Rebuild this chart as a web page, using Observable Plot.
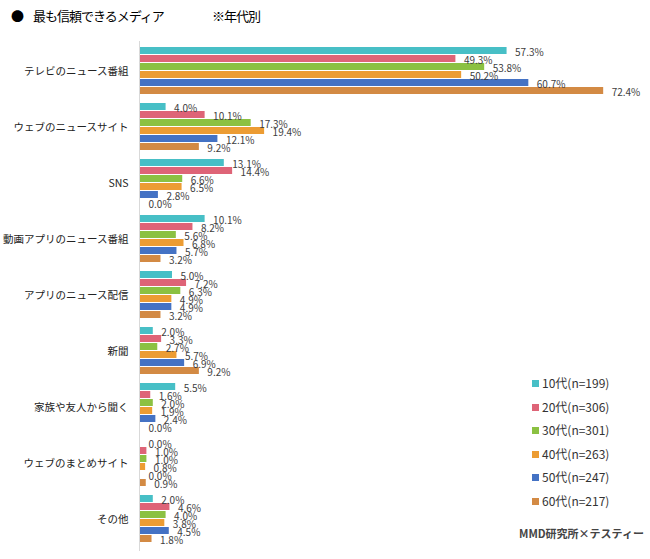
<!DOCTYPE html>
<html>
<head>
<meta charset="utf-8">
<script src="https://cdn.jsdelivr.net/npm/d3@7"></script>
<script src="https://cdn.jsdelivr.net/npm/@observablehq/plot@0.6"></script>
<style>
  html, body { margin: 0; padding: 0; background: #fff; }
  #wrap { position: relative; width: 650px; height: 559px; font-family: "Noto Sans CJK JP", "Noto Sans", sans-serif; overflow: hidden; }
  .t { position: absolute; top: 7px; font-size: 13px; color: #000; white-space: pre; line-height: 18px; letter-spacing: -1px; }
  #legend { position: absolute; left: 532px; top: 374px; }
  .li { position: absolute; left: 0; font-size: 12px; color: #333; white-space: nowrap; line-height: 18px; }
  .sw { display: inline-block; width: 7px; height: 7px; margin-right: 3px; vertical-align: 1px; }
  #caption { position: absolute; left: 519px; top: 525px; font-size: 11px; font-weight: bold; color: #444; white-space: nowrap; }
  #chart { position: absolute; left: 0; top: 0; }
</style>
</head>
<body>
<div id="wrap">
  <div id="chart"></div>
  <div class="t" style="left:11px">●</div>
  <div class="t" style="left:33px">最も信頼できるメディア</div>
  <div class="t" style="left:212px">※年代別</div>
  <div id="legend"></div>
  <div id="caption">MMD研究所×テスティー</div>
</div>
<script>
const categories = ["テレビのニュース番組", "ウェブのニュースサイト", "SNS", "動画アプリのニュース番組", "アプリのニュース配信", "新聞", "家族や友人から聞く", "ウェブのまとめサイト", "その他"];
const series = ["10代(n=199)", "20代(n=306)", "30代(n=301)", "40代(n=263)", "50代(n=247)", "60代(n=217)"];
const colors = ["#47bfc6", "#de6477", "#8bc142", "#ec9c33", "#4472c4", "#d38a44"];
const s10 = [57.3, 4.0, 13.1, 10.1, 5.0, 2.0, 5.5, 0.0, 2.0];
const s20 = [49.3, 10.1, 14.4, 8.2, 7.2, 3.3, 1.6, 1.0, 4.6];
const s30 = [53.8, 17.3, 6.6, 5.6, 6.3, 2.7, 2.0, 1.0, 4.0];
const s40 = [50.2, 19.4, 6.5, 6.8, 4.9, 5.7, 1.9, 0.8, 3.8];
const s50 = [60.7, 12.1, 2.8, 5.7, 4.9, 6.9, 2.4, 0.0, 4.5];
const s60 = [72.4, 9.2, 0.0, 3.2, 3.2, 9.2, 0.0, 0.9, 1.8];

const seriesValues = [s10, s20, s30, s40, s50, s60];
const data = [];
categories.forEach((c, i) => {
  series.forEach((s, j) => {
    data.push({cat: c, age: s, value: seriesValues[j][i]});
  });
});

const plot = Plot.plot({
  width: 650,
  height: 559,
  marginLeft: 140,
  marginRight: 11,
  marginTop: 42,
  marginBottom: 10,
  style: {fontFamily: "'Noto Sans CJK JP', sans-serif", fontSize: "10.5px", color: "#222", background: "transparent"},
  x: {domain: [0, 78], axis: null},
  y: {domain: series, axis: null, padding: 0.12},
  fy: {domain: categories, padding: 0.1, axis: "left", label: null, tickSize: 0, tickPadding: 12},
  color: {domain: series, range: colors},
  marks: [
    Plot.barX(data, {x: "value", y: "age", fy: "cat", fill: "age"}),
    Plot.text(data, {x: "value", y: "age", fy: "cat", text: d => d.value.toFixed(1) + "%", textAnchor: "start", dx: 8, dy: 1.5, fill: "#404040", fontSize: 10})
  ]
});
document.getElementById("chart").appendChild(plot);

// continuous vertical axis line at x = 0
const xs = plot.scale("x");
const x0 = xs.apply(0) - 0.5;
d3.select(plot).append("line")
  .attr("x1", x0).attr("x2", x0)
  .attr("y1", 41).attr("y2", 551)
  .attr("stroke", "#d9d9d9").attr("stroke-width", 1);

// legend
const leg = d3.select("#legend");
series.forEach((s, i) => {
  const row = leg.append("div").attr("class", "li").style("top", (i * 23.6) + "px");
  row.append("span").attr("class", "sw").style("background", colors[i]);
  row.append("span").text(s);
});
</script>
</body>
</html>
